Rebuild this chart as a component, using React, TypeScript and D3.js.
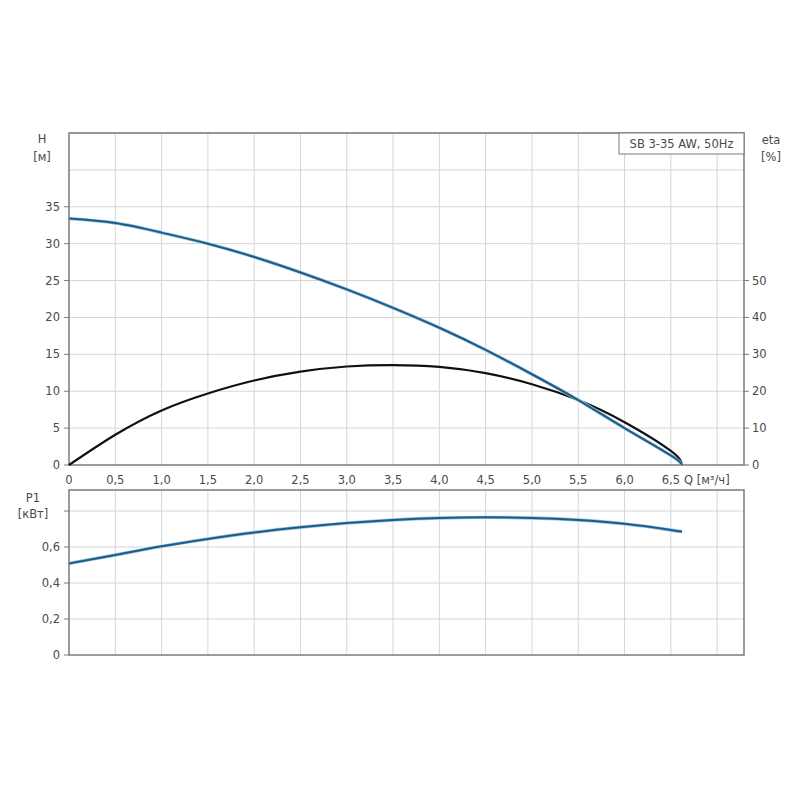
import React from "react";
import * as d3 from "d3";

// Pump curve readings, Q in m³/h
const flow = [0, 0.5, 1.0, 1.5, 2.0, 2.5, 3.0, 3.5, 4.0, 4.5, 5.0, 5.5, 6.0, 6.5, 6.62];
const head = [33.4, 32.8, 31.5, 30.0, 28.2, 26.1, 23.8, 21.3, 18.6, 15.6, 12.3, 8.8, 5.0, 1.3, 0];
const eta = [0, 8.2, 14.8, 19.4, 22.9, 25.3, 26.7, 27.1, 26.6, 24.9, 21.9, 17.6, 11.6, 3.8, 0];
const power = [0.509, 0.556, 0.604, 0.645, 0.681, 0.71, 0.733, 0.75, 0.761, 0.765, 0.761, 0.75, 0.729, 0.695, 0.685];

const qTicks = [0, 0.5, 1, 1.5, 2, 2.5, 3, 3.5, 4, 4.5, 5, 5.5, 6, 6.5, 7];
const hGrid = [0, 5, 10, 15, 20, 25, 30, 35, 40, 45];
const hLabels = [0, 5, 10, 15, 20, 25, 30, 35];
const etaLabels = [0, 10, 20, 30, 40, 50];
const pGrid = [0, 0.2, 0.4, 0.6, 0.8];
const pLabels = [0, 0.2, 0.4, 0.6];

const title = "SB 3-35 AW, 50Hz";

const ru = d3.formatLocale({ decimal: ",", thousands: " ", grouping: [3], currency: ["", ""] });
const fmt1 = (v: number) => (v === 0 ? "0" : ru.format(".1f")(v));

const font = "'DejaVu Sans', Verdana, sans-serif";
const fs = 11.5;
const txt = "#4a4a4a";
const gridC = "#d6d6d6";
const frameC = "#7a7a7a";
const blue = "#235a80";
const halo = "#8fc6ea";

export default function App() {
  const left = 69, right = 744;
  const top1 = 133, bot1 = 465;
  const top2 = 490, bot2 = 655;

  const x = d3.scaleLinear().domain([0, 7.29]).range([left, right]);
  const yH = d3.scaleLinear().domain([0, 45]).range([bot1, top1]);
  const yEta = d3.scaleLinear().domain([0, 90]).range([bot1, top1]);
  const yP = d3.scaleLinear().domain([0, 0.917]).range([bot2, top2]);

  const pts = flow.map((_, i) => i);
  const hLine = d3.line<number>().x((i) => x(flow[i])).y((i) => yH(head[i])).curve(d3.curveNatural);
  const eLine = d3.line<number>().x((i) => x(flow[i])).y((i) => yEta(eta[i])).curve(d3.curveNatural);
  const pLine = d3.line<number>().x((i) => x(flow[i])).y((i) => yP(power[i])).curve(d3.curveNatural);

  const vGrid = qTicks.filter((q) => q > 0 && x(q) < right);

  return (
    <svg width={800} height={800} style={{ position: "absolute", left: 0, top: 0, background: "#fff" }} fontFamily={font}>
      <rect x={0} y={0} width={800} height={800} fill="#fff" />

      {/* Upper panel: head and efficiency */}
      {vGrid.map((q) => (
        <line key={"v1" + q} x1={x(q)} x2={x(q)} y1={top1} y2={bot1} stroke={gridC} />
      ))}
      {hGrid.filter((h) => h > 0).map((h) => (
        <line key={"h1" + h} x1={left} x2={right} y1={yH(h)} y2={yH(h)} stroke={gridC} />
      ))}
      <rect x={left} y={top1} width={right - left} height={bot1 - top1} fill="none" stroke={frameC} strokeWidth={1.5} />

      {hLabels.map((h) => (
        <g key={"hl" + h}>
          <line x1={left - 5} x2={left} y1={yH(h)} y2={yH(h)} stroke={frameC} />
          <text x={left - 9} y={yH(h)} dy="0.35em" textAnchor="end" fontSize={fs} fill={txt}>{h}</text>
        </g>
      ))}
      {etaLabels.map((e) => (
        <g key={"el" + e}>
          <line x1={right} x2={right + 5} y1={yEta(e)} y2={yEta(e)} stroke={frameC} />
          <text x={right + 8} y={yEta(e)} dy="0.35em" textAnchor="start" fontSize={fs} fill={txt}>{e}</text>
        </g>
      ))}
      {qTicks.filter((q) => q <= 6.5).map((q) => (
        <text key={"ql" + q} x={x(q)} y={bot1 + 19} textAnchor="middle" fontSize={fs} fill={txt}>{fmt1(q)}</text>
      ))}
      <text x={684} y={bot1 + 19} fontSize={fs} fill={txt}>Q [м³/ч]</text>

      <text x={42} y={143} textAnchor="middle" fontSize={fs} fill={txt}>H</text>
      <text x={42} y={161} textAnchor="middle" fontSize={fs} fill={txt}>[м]</text>
      <text x={771} y={144} textAnchor="middle" fontSize={fs} fill={txt}>eta</text>
      <text x={771} y={161} textAnchor="middle" fontSize={fs} fill={txt}>[%]</text>

      <path d={eLine(pts) ?? ""} fill="none" stroke="#111" strokeWidth={2.2} />
      <path d={hLine(pts) ?? ""} fill="none" stroke={halo} strokeWidth={3.4} />
      <path d={hLine(pts) ?? ""} fill="none" stroke={blue} strokeWidth={2} />

      <rect x={619} y={top1} width={right - 619} height={21} fill="#fff" stroke={frameC} strokeWidth={1} />
      <text x={681.5} y={top1 + 15} textAnchor="middle" fontSize={fs} fill={txt}>{title}</text>

      {/* Lower panel: power input */}
      {vGrid.map((q) => (
        <line key={"v2" + q} x1={x(q)} x2={x(q)} y1={top2} y2={bot2} stroke={gridC} />
      ))}
      {pGrid.filter((p) => p > 0).map((p) => (
        <line key={"p2" + p} x1={left} x2={right} y1={yP(p)} y2={yP(p)} stroke={gridC} />
      ))}
      <rect x={left} y={top2} width={right - left} height={bot2 - top2} fill="none" stroke={frameC} strokeWidth={1.5} />
      {pGrid.map((p) => (
        <line key={"pt" + p} x1={left - 5} x2={left} y1={yP(p)} y2={yP(p)} stroke={frameC} />
      ))}
      {pLabels.map((p) => (
        <text key={"pl" + p} x={left - 9} y={yP(p)} dy="0.35em" textAnchor="end" fontSize={fs} fill={txt}>{fmt1(p)}</text>
      ))}
      <text x={33} y={502} textAnchor="middle" fontSize={fs} fill={txt}>P1</text>
      <text x={33} y={518} textAnchor="middle" fontSize={fs} fill={txt}>[кВт]</text>

      <path d={pLine(pts) ?? ""} fill="none" stroke={halo} strokeWidth={3.4} />
      <path d={pLine(pts) ?? ""} fill="none" stroke={blue} strokeWidth={2} />
    </svg>
  );
}
